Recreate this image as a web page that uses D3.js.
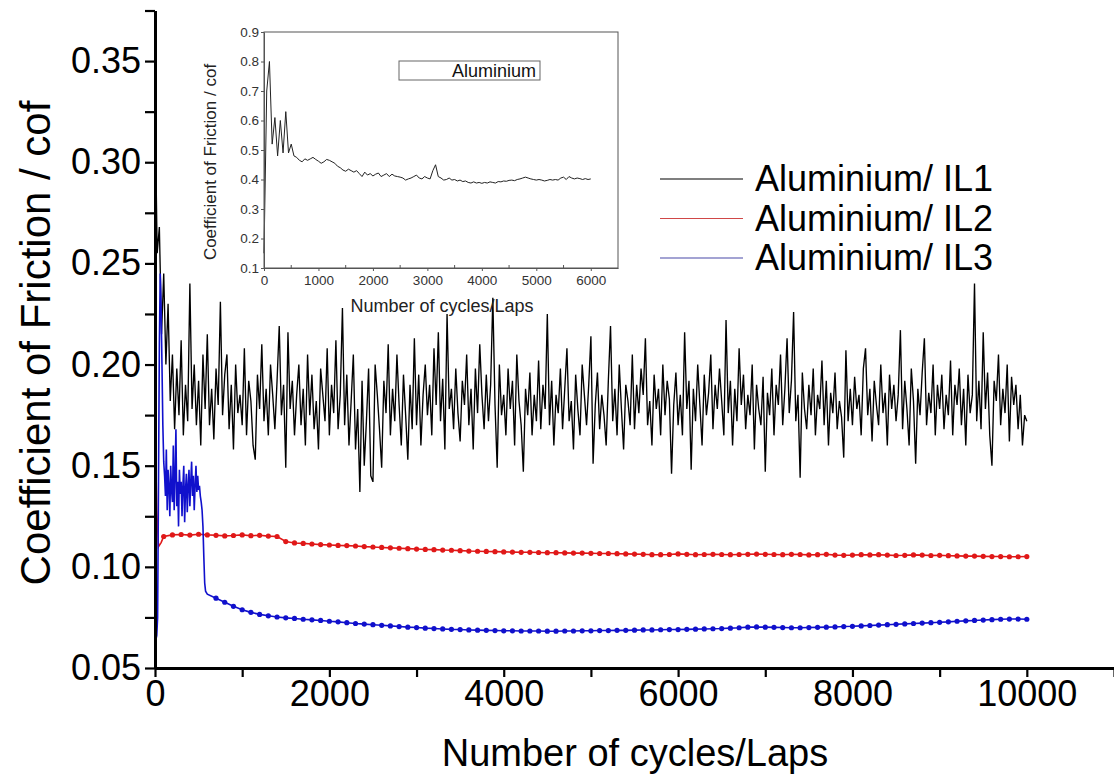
<!DOCTYPE html>
<html>
<head>
<meta charset="utf-8">
<script src="https://cdn.jsdelivr.net/npm/d3@7"></script>
<style>
  body { margin: 0; background: #fff; }
  svg { display: block; font-family: "Liberation Sans", Arial, sans-serif; }
</style>
</head>
<body>
<svg id="chart" width="1114" height="778"></svg>
<script>
// ---- data ----
// Aluminium/ IL1, one value every 25 cycles from 0 to 10000
const il1Step = 25;
const il1Values = [
  0.330, 0.255, 0.268, 0.215, 0.245, 0.200, 0.230, 0.182, 0.205, 0.168, 0.198, 0.175, 0.212, 0.165, 0.190, 0.172, 0.240, 0.178, 0.200, 0.170,
  0.192, 0.160, 0.205, 0.178, 0.215, 0.170, 0.188, 0.163, 0.198, 0.180, 0.231, 0.175, 0.195, 0.205, 0.168, 0.190, 0.158, 0.200, 0.176, 0.185,
  0.170, 0.208, 0.165, 0.192, 0.182, 0.160, 0.153, 0.195, 0.178, 0.210, 0.172, 0.188, 0.165, 0.200, 0.185, 0.168, 0.192, 0.219, 0.175, 0.190,
  0.149, 0.216, 0.178, 0.192, 0.165, 0.185, 0.200, 0.170, 0.188, 0.160, 0.205, 0.175, 0.195, 0.168, 0.182, 0.158, 0.198, 0.185, 0.172, 0.208,
  0.165, 0.190, 0.176, 0.212, 0.168, 0.185, 0.228, 0.170, 0.195, 0.160, 0.182, 0.205, 0.158, 0.178, 0.137, 0.192, 0.150, 0.172, 0.198, 0.145,
  0.142, 0.200, 0.185, 0.168, 0.149, 0.192, 0.176, 0.210, 0.165, 0.188, 0.172, 0.205, 0.180, 0.160, 0.195, 0.175, 0.153, 0.190, 0.168, 0.213,
  0.170, 0.195, 0.160, 0.185, 0.200, 0.175, 0.190, 0.165, 0.208, 0.180, 0.216, 0.172, 0.193, 0.158, 0.225, 0.178, 0.188, 0.168, 0.198, 0.176,
  0.162, 0.192, 0.180, 0.205, 0.170, 0.188, 0.158, 0.198, 0.176, 0.210, 0.185, 0.168, 0.195, 0.172, 0.190, 0.233, 0.180, 0.149, 0.200, 0.175,
  0.185, 0.165, 0.198, 0.178, 0.192, 0.160, 0.205, 0.182, 0.170, 0.147, 0.188, 0.175, 0.196, 0.165, 0.185, 0.172, 0.202, 0.168, 0.190, 0.178,
  0.225, 0.170, 0.192, 0.160, 0.185, 0.176, 0.198, 0.168, 0.188, 0.208, 0.172, 0.182, 0.158, 0.195, 0.178, 0.165, 0.200, 0.185, 0.170, 0.190,
  0.214, 0.151, 0.180, 0.196, 0.168, 0.185, 0.175, 0.160, 0.192, 0.219, 0.172, 0.188, 0.165, 0.200, 0.178, 0.158, 0.190, 0.182, 0.170, 0.205,
  0.168, 0.190, 0.176, 0.198, 0.185, 0.213, 0.170, 0.182, 0.160, 0.195, 0.178, 0.188, 0.165, 0.200, 0.175, 0.192, 0.183, 0.146, 0.180, 0.196,
  0.170, 0.185, 0.165, 0.216, 0.178, 0.192, 0.148, 0.188, 0.172, 0.200, 0.180, 0.160, 0.195, 0.175, 0.186, 0.205, 0.168, 0.190, 0.178, 0.198,
  0.182, 0.165, 0.222, 0.176, 0.192, 0.160, 0.188, 0.172, 0.208, 0.180, 0.195, 0.168, 0.185, 0.175, 0.200, 0.158, 0.190, 0.178, 0.170, 0.194,
  0.147, 0.186, 0.175, 0.198, 0.165, 0.190, 0.180, 0.205, 0.170, 0.188, 0.213, 0.176, 0.192, 0.226, 0.172, 0.185, 0.144, 0.196, 0.178, 0.168,
  0.190, 0.175, 0.198, 0.165, 0.185, 0.178, 0.202, 0.170, 0.192, 0.160, 0.186, 0.176, 0.196, 0.168, 0.182, 0.174, 0.154, 0.207, 0.172, 0.188,
  0.170, 0.194, 0.178, 0.185, 0.165, 0.198, 0.208, 0.175, 0.188, 0.162, 0.192, 0.180, 0.170, 0.200, 0.176, 0.186, 0.160, 0.195, 0.178, 0.190,
  0.172, 0.185, 0.217, 0.168, 0.192, 0.178, 0.160, 0.198, 0.182, 0.151, 0.188, 0.175, 0.196, 0.213, 0.170, 0.186, 0.176, 0.200, 0.165, 0.190,
  0.178, 0.195, 0.168, 0.185, 0.175, 0.202, 0.165, 0.190, 0.180, 0.198, 0.170, 0.188, 0.160, 0.195, 0.176, 0.185, 0.240, 0.172, 0.192, 0.168,
  0.216, 0.178, 0.196, 0.165, 0.150, 0.192, 0.182, 0.205, 0.170, 0.188, 0.176, 0.200, 0.162, 0.194, 0.180, 0.190, 0.168, 0.185, 0.160, 0.175,
  0.172
];

// Aluminium/ IL2: run-in, then one value every 100 cycles from 100 to 10000
const il2Head = [[0, 0.110], [8, 0.156], [20, 0.128], [40, 0.110], [70, 0.112]];
const il2Start = 100, il2Step = 100;
const il2Values = [
  0.1150, 0.1158, 0.1160, 0.1157, 0.1161, 0.1158, 0.1156, 0.1153, 0.1155, 0.1158,
  0.1154, 0.1156, 0.1152, 0.1150, 0.1125, 0.1118, 0.1116, 0.1113, 0.1110, 0.1108,
  0.1106, 0.1105, 0.1103, 0.1100, 0.1098, 0.1096, 0.1094, 0.1092, 0.1090, 0.1088,
  0.1086, 0.1085, 0.1083, 0.1082, 0.1080, 0.1078, 0.1077, 0.1076, 0.1075, 0.1074,
  0.1073, 0.1072, 0.1072, 0.1071, 0.1070, 0.1070, 0.1069, 0.1068, 0.1068, 0.1067,
  0.1066, 0.1066, 0.1065, 0.1064, 0.1063, 0.1062, 0.1060, 0.1060, 0.1061, 0.1064,
  0.1062, 0.1060, 0.1061, 0.1062, 0.1061, 0.1060, 0.1061, 0.1062, 0.1063, 0.1062,
  0.1061, 0.1060, 0.1062, 0.1061, 0.1059, 0.1060, 0.1062, 0.1058, 0.1057, 0.1058,
  0.1060, 0.1059, 0.1060, 0.1058, 0.1056, 0.1057, 0.1059, 0.1058, 0.1056, 0.1057,
  0.1055, 0.1054, 0.1053, 0.1053, 0.1052, 0.1051, 0.1051, 0.1050, 0.1050, 0.1051
];

// Aluminium/ IL3: noisy run-in (cycle, cof), then every 100 cycles from 700 to 10000
const il3Head = [
  [0, 0.068], [10, 0.064], [20, 0.066], [30, 0.075], [40, 0.140], [50, 0.210],
  [60, 0.245], [70, 0.228], [80, 0.200], [90, 0.170], [100, 0.152], [110, 0.145],
  [120, 0.135], [130, 0.158], [140, 0.128], [150, 0.148], [160, 0.140], [170, 0.125],
  [180, 0.150], [190, 0.138], [200, 0.132], [210, 0.160], [220, 0.128], [230, 0.145],
  [240, 0.168], [250, 0.130], [260, 0.142], [270, 0.120], [280, 0.148], [290, 0.136],
  [300, 0.142], [310, 0.125], [320, 0.140], [330, 0.150], [340, 0.122], [350, 0.138],
  [360, 0.146], [370, 0.127], [380, 0.140], [390, 0.148], [400, 0.130], [410, 0.142],
  [420, 0.152], [430, 0.135], [440, 0.145], [450, 0.128], [460, 0.140], [470, 0.150],
  [480, 0.137], [490, 0.145], [500, 0.138], [510, 0.140], [520, 0.135], [530, 0.132],
  [540, 0.128], [550, 0.120], [560, 0.105], [570, 0.092], [580, 0.088], [600, 0.0865]
];
const il3Start = 700, il3Step = 100;
const il3Values = [
  0.0845, 0.0825, 0.0805, 0.0788, 0.0775, 0.0765, 0.0758, 0.0752, 0.0748, 0.0745,
  0.0741, 0.0738, 0.0735, 0.0731, 0.0728, 0.0724, 0.0720, 0.0717, 0.0714, 0.0711,
  0.0708, 0.0705, 0.0702, 0.0700, 0.0697, 0.0695, 0.0693, 0.0691, 0.0690, 0.0688,
  0.0687, 0.0686, 0.0685, 0.0684, 0.0684, 0.0683, 0.0683, 0.0683, 0.0682, 0.0682,
  0.0683, 0.0683, 0.0684, 0.0684, 0.0685, 0.0685, 0.0686, 0.0686, 0.0687, 0.0688,
  0.0688, 0.0689, 0.0690, 0.0690, 0.0691, 0.0692, 0.0693, 0.0694, 0.0695, 0.0697,
  0.0699, 0.0702, 0.0703, 0.0702, 0.0701, 0.0700, 0.0699, 0.0699, 0.0700, 0.0701,
  0.0702, 0.0703, 0.0705, 0.0706, 0.0708, 0.0710, 0.0712, 0.0714, 0.0716, 0.0718,
  0.0720, 0.0722, 0.0724, 0.0726, 0.0728, 0.0731, 0.0733, 0.0735, 0.0737, 0.0739,
  0.0741, 0.0742, 0.0742, 0.0741
];

// inset: Aluminium alone, one value every 50 cycles from 0 to 6000
const insetStep = 50;
const insetValues = [
  0.150, 0.700, 0.800, 0.520, 0.610, 0.480, 0.600, 0.490, 0.630, 0.490,
  0.520, 0.480, 0.475, 0.465, 0.460, 0.470, 0.465, 0.470, 0.475, 0.468,
  0.462, 0.455, 0.460, 0.468, 0.465, 0.460, 0.455, 0.445, 0.440, 0.432,
  0.428, 0.435, 0.430, 0.425, 0.430, 0.420, 0.410, 0.425, 0.415, 0.420,
  0.412, 0.418, 0.422, 0.410, 0.415, 0.420, 0.410, 0.418, 0.412, 0.410,
  0.408, 0.405, 0.398, 0.402, 0.405, 0.410, 0.415, 0.405, 0.402, 0.410,
  0.405, 0.402, 0.430, 0.450, 0.410, 0.405, 0.398, 0.400, 0.405, 0.398,
  0.400, 0.395, 0.398, 0.393, 0.395, 0.390, 0.388, 0.392, 0.388, 0.390,
  0.387, 0.390, 0.388, 0.392, 0.390, 0.388, 0.393, 0.392, 0.395, 0.394,
  0.397, 0.398, 0.396, 0.400, 0.402, 0.405, 0.408, 0.405, 0.402, 0.400,
  0.398, 0.400, 0.398, 0.395, 0.397, 0.400, 0.398, 0.400, 0.398, 0.405,
  0.408, 0.400, 0.410, 0.405, 0.402, 0.405, 0.403, 0.400, 0.403, 0.400,
  0.402
];

const seriesNames = ["Aluminium/ IL1", "Aluminium/ IL2", "Aluminium/ IL3"];
const seriesColors = ["#000000", "#e01818", "#1010cc"];
const legendColors = ["#000000", "#d04848", "#4848a8"];

// ---- build point lists ----
const il1 = il1Values.map((v, i) => [i * il1Step, v]);
const il2Tail = il2Values.map((v, i) => [il2Start + i * il2Step, v]);
const il2 = il2Head.concat(il2Tail);
const il3Tail = il3Values.map((v, i) => [il3Start + i * il3Step, v]);
const il3 = il3Head.concat(il3Tail);
const inset = insetValues.map((v, i) => [i * insetStep, v]);

const svg = d3.select("#chart");
svg.append("rect").attr("width", 1114).attr("height", 778).attr("fill", "#fff");

// ---- main chart ----
const x = d3.scaleLinear().domain([0, 11000]).range([155, 1114]);
const y = d3.scaleLinear().domain([0.05, 0.375]).range([668, 10.5]);

const line = d3.line().x(d => x(d[0])).y(d => y(d[1]));

svg.append("path").datum(il1)
  .attr("d", line).attr("fill", "none")
  .attr("stroke", seriesColors[0]).attr("stroke-width", 1.35);

[[il2, il2Tail, 1], [il3, il3Tail, 2]].forEach(([pts, marks, k]) => {
  svg.append("path").datum(pts)
    .attr("d", line).attr("fill", "none")
    .attr("stroke", seriesColors[k]).attr("stroke-width", 1.6);
  svg.append("g").selectAll("circle").data(marks).enter()
    .append("circle")
    .attr("cx", d => x(d[0])).attr("cy", d => y(d[1]))
    .attr("r", 2.6).attr("fill", seriesColors[k]);
});

const xAxis = d3.axisBottom(x)
  .tickValues(d3.range(0, 11001, 1000))
  .tickFormat(d => d % 2000 === 0 ? d : "")
  .tickSize(9).tickSizeOuter(0).tickPadding(3);

const yTicks = d3.range(0, 14).map(i => 0.05 + i * 0.025);
const yAxis = d3.axisLeft(y)
  .tickValues(yTicks)
  .tickFormat((d, i) => i % 2 === 0 ? d3.format(".2f")(d) : "")
  .tickSize(10).tickSizeOuter(0).tickPadding(4);

const gx = svg.append("g")
  .attr("transform", `translate(0,${y(0.05)})`).call(xAxis);
const gy = svg.append("g")
  .attr("transform", `translate(${x(0)},0)`).call(yAxis);

[gx, gy].forEach(g => {
  g.select(".domain").attr("stroke", "#000").attr("stroke-width", 3);
  g.selectAll(".tick line").attr("stroke", "#000").attr("stroke-width", 2.2);
  g.selectAll(".tick text").attr("fill", "#000").attr("font-size", 36);
});

svg.append("text")
  .attr("x", 635).attr("y", 766)
  .attr("text-anchor", "middle").attr("font-size", 38)
  .text("Number of cycles/Laps");

svg.append("text")
  .attr("transform", "translate(50,343) rotate(-90)")
  .attr("text-anchor", "middle").attr("font-size", 42)
  .text("Coefficient of Friction / cof");

// legend
const legend = svg.append("g").selectAll("g").data(seriesNames).enter()
  .append("g").attr("transform", (d, i) => `translate(660,${179 + i * 39.5})`);
legend.append("line").attr("x1", 0).attr("x2", 83)
  .attr("stroke", (d, i) => legendColors[i]).attr("stroke-width", 1.2);
legend.append("text").attr("x", 95).attr("y", 12)
  .attr("font-size", 36).text(d => d);

// ---- inset ----
const ix = d3.scaleLinear().domain([0, 6500]).range([264, 618]);
const iy = d3.scaleLinear().domain([0.1, 0.9]).range([268, 32]);
const insetG = svg.append("g");

insetG.append("rect")
  .attr("x", ix(0)).attr("y", iy(0.9))
  .attr("width", ix(6500) - ix(0)).attr("height", iy(0.1) - iy(0.9))
  .attr("fill", "#fff").attr("stroke", "#555").attr("stroke-width", 1);

const iline = d3.line().x(d => ix(d[0])).y(d => iy(d[1]));
insetG.append("path").datum(inset)
  .attr("d", iline).attr("fill", "none")
  .attr("stroke", "#222").attr("stroke-width", 1);

const ixAxis = d3.axisBottom(ix)
  .tickValues(d3.range(0, 6001, 1000))
  .tickFormat(d3.format("d"))
  .tickSize(3).tickSizeOuter(0).tickPadding(4);
const iyAxis = d3.axisLeft(iy)
  .tickValues(d3.range(1, 10).map(i => i / 10))
  .tickFormat(d3.format(".1f"))
  .tickSize(3).tickSizeOuter(0).tickPadding(2);

const gix = insetG.append("g").attr("transform", `translate(0,${iy(0.1)})`).call(ixAxis);
const giy = insetG.append("g").attr("transform", `translate(${ix(0)},0)`).call(iyAxis);
[gix, giy].forEach(g => {
  g.select(".domain").attr("stroke", "#555");
  g.selectAll(".tick line").attr("stroke", "#555");
  g.selectAll(".tick text").attr("fill", "#333").attr("font-size", 13.5);
});

// inner minor ticks on the inset
insetG.append("g").selectAll("line").data(d3.range(500, 6500, 1000)).enter()
  .append("line")
  .attr("x1", d => ix(d)).attr("x2", d => ix(d))
  .attr("y1", iy(0.1)).attr("y2", iy(0.1) - 3)
  .attr("stroke", "#555");

insetG.append("text")
  .attr("x", 442).attr("y", 312)
  .attr("text-anchor", "middle").attr("font-size", 18).attr("fill", "#222")
  .text("Number of cycles/Laps");
insetG.append("text")
  .attr("transform", "translate(216,162) rotate(-90)")
  .attr("text-anchor", "middle").attr("font-size", 17).attr("fill", "#222")
  .text("Coefficient of Friction / cof");

insetG.append("rect")
  .attr("x", 399).attr("y", 61).attr("width", 141).attr("height", 19)
  .attr("fill", "#fff").attr("stroke", "#666").attr("stroke-width", 1);
insetG.append("text")
  .attr("x", 536).attr("y", 77)
  .attr("text-anchor", "end").attr("font-size", 18).attr("fill", "#111")
  .text("Aluminium");
</script>
</body>
</html>
